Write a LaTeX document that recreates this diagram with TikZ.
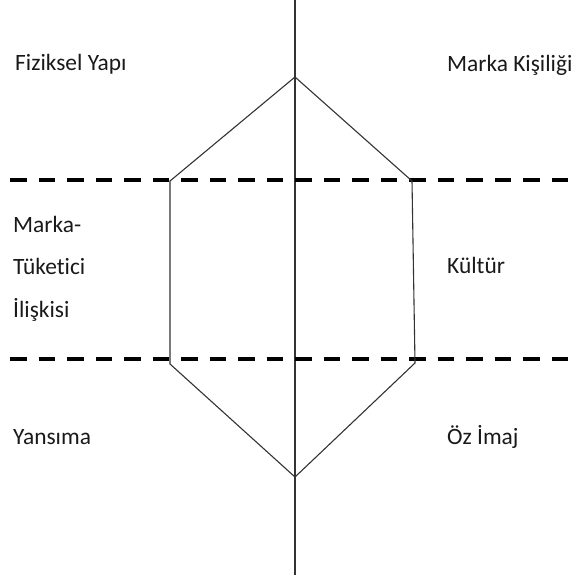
\documentclass[tikz,border=0pt]{standalone}
\usepackage{fontspec}
\setmainfont[Ligatures=NoCommon]{Carlito}
\begin{document}
\begin{tikzpicture}[x=1pt,y=-1pt,
  lbl/.style={anchor=base west,inner sep=0pt,text=black!90,font=\fontsize{23.4}{28}\selectfont},
  axis/.style={line width=1.4pt,draw=black!80},
  hexline/.style={line width=1.1pt,draw=black!80,line join=miter},
  sep/.style={line width=3.6pt,draw=black,dash pattern=on 16.5pt off 12pt}]
\useasboundingbox (0,0) rectangle (578,580);
% axis
\coordinate (vtop) at (295,0);
\coordinate (vbot) at (295,575);
\draw[axis] (vtop) -- (vbot);
% dashed separators
\coordinate (d1l) at (10,180);
\coordinate (d1r) at (578,180);
\coordinate (d2l) at (10,359);
\coordinate (d2r) at (578,359);
\draw[sep] (d1l) -- (d1r);
\draw[sep] (d2l) -- (d2r);
% hexagon
\coordinate (T) at (295,77);
\coordinate (UL) at (170,181);
\coordinate (UR) at (412,181);
\coordinate (LR) at (415,363);
\coordinate (B) at (295,477);
\coordinate (LL) at (170,364);
\draw[hexline] (T) -- (UR) -- (LR) -- (B) -- (LL) -- (UL) -- cycle;
% labels
\node[lbl] (fy) at (15,71) {Fiziksel Yapı};
\node[lbl] (mk) at (447,72) {Marka Kişiliği};
\node[lbl] (m1) at (13,232) {Marka-};
\node[lbl] (m2) at (13,274) {Tüketici};
\node[lbl] (m3) at (13,317) {İlişkisi};
\node[lbl] (ku) at (447,273) {Kültür};
\node[lbl] (ya) at (13,444) {Yansıma};
\node[lbl] (oz) at (447,444) {Öz İmaj};
\end{tikzpicture}
\end{document}
